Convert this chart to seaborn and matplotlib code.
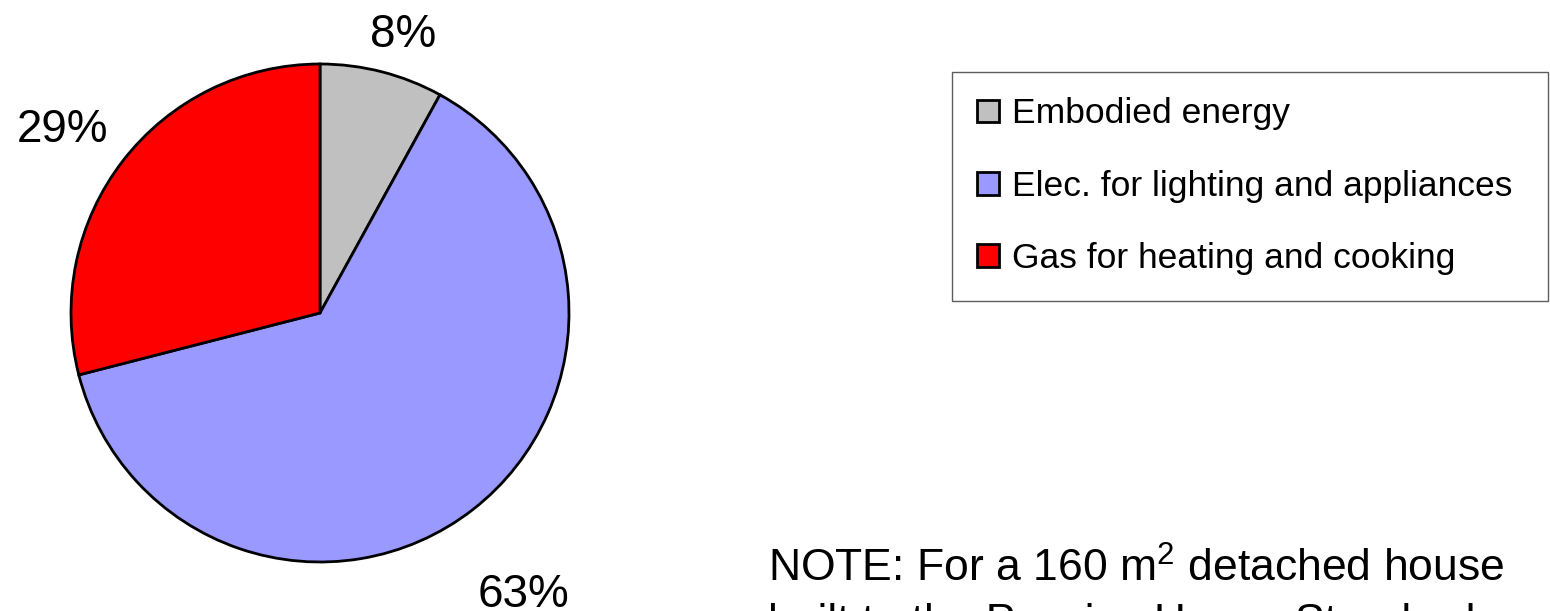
import numpy as np
import matplotlib
matplotlib.use("Agg")
import matplotlib.pyplot as plt
import seaborn as sns

# Shares of lifetime energy use for the house
categories = ["Embodied energy", "Elec. for lighting and appliances", "Gas for heating and cooking"]
shares = [8, 63, 29]
share_labels = ["8%", "63%", "29%"]
note_text = "NOTE: For a 160 m$^{2}$ detached house\nbuilt to the Passive House Standard"

sns.set_theme(style="white")
plt.rcParams["font.family"] = ["Liberation Sans", "DejaVu Sans"]
plt.rcParams["text.color"] = "black"
plt.rcParams["mathtext.fontset"] = "custom"
plt.rcParams["mathtext.rm"] = "Liberation Sans"
plt.rcParams["mathtext.it"] = "Liberation Sans:italic"
plt.rcParams["mathtext.bf"] = "Liberation Sans:bold"

colors = sns.color_palette(["#C0C0C0", "#9999FF", "#FF0000"])

W, H = 1550, 611
fig = plt.figure(figsize=(W / 100, H / 100), dpi=100)
fig.patch.set_facecolor("white")

# Pie axes: centre (320, 313) px, radius ~249 px
cx, cy, r = 320, 313, 249
ax = fig.add_axes([(cx - r) / W, (H - cy - r) / H, 2 * r / W, 2 * r / H])
wedges, _ = ax.pie(
    shares,
    colors=colors,
    startangle=90,
    counterclock=False,
    radius=1.0,
    wedgeprops=dict(edgecolor="black", linewidth=2.0),
)
ax.set_xlim(-1, 1)
ax.set_ylim(-1, 1)
ax.set_aspect("equal")
ax.axis("off")

# Percentage labels outside each wedge: radial distance and small angular nudge
label_dist = [1.167, 1.394, 1.271]
label_nudge = [-2.2, -2.0, 2.4]
for w, lab, d, nd in zip(wedges, share_labels, label_dist, label_nudge):
    ang = np.deg2rad((w.theta1 + w.theta2) / 2 + nd)
    ax.text(d * np.cos(ang), d * np.sin(ang), lab, ha="center", va="center",
            fontsize=33, color="black", clip_on=False)

# Legend in a framed box on the right
leg = fig.legend(
    wedges, categories,
    loc="upper left",
    bbox_to_anchor=(952 / W, 1 - 303 / H, 596 / W, 231 / H),
    mode="expand",
    frameon=True, fancybox=False,
    fontsize=25.5,
    handlelength=0.6, handleheight=0.6, handletextpad=0.38,
    labelspacing=1.11, borderpad=0.72, borderaxespad=0,
    labelcolor="black",
)
frame = leg.get_frame()
frame.set_edgecolor("#333333")
frame.set_linewidth(1.0)
frame.set_facecolor("white")
for h in leg.legend_handles:
    h.set_linewidth(2.0)
    h.set_edgecolor("black")

fig.text(768 / W, 1 - 548 / H, note_text, ha="left", va="top",
         fontsize=32, color="black", linespacing=1.38)

fig.savefig("out.png", dpi=100, facecolor="white")
